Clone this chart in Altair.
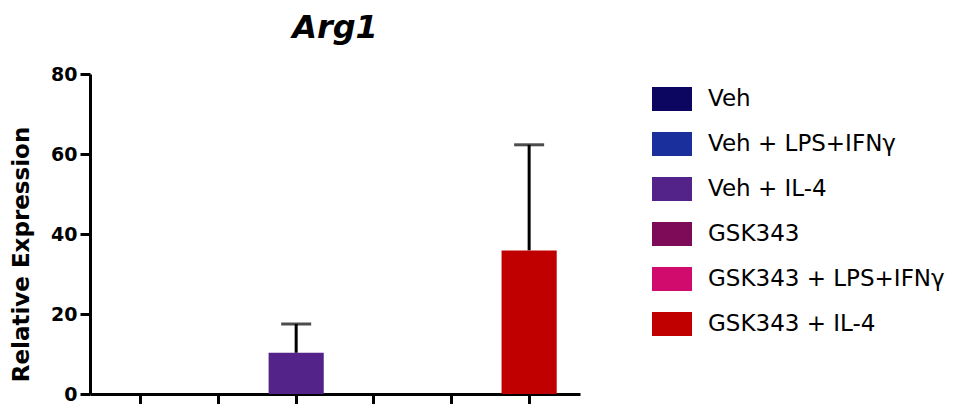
import altair as alt
import pandas as pd

groups = ["Veh", "Veh + LPS+IFNγ", "Veh + IL-4", "GSK343", "GSK343 + LPS+IFNγ", "GSK343 + IL-4"]
means = [0.0, 0.0, 10.3, 0.0, 0.0, 35.9]
errors = [0.0, 0.0, 7.2, 0.0, 0.0, 26.4]
colors = ["#0d0661", "#1b2f9c", "#53238a", "#7e0b57", "#d10b6d", "#c00000"]

df = pd.DataFrame({"group": groups, "mean": means, "err": errors})
df["upper"] = df["mean"] + df["err"]

FONT = "DejaVu Sans"

x = alt.X("group:N", sort=groups, title=None,
          scale=alt.Scale(paddingInner=0.29, paddingOuter=0.3),
          axis=alt.Axis(labels=False, ticks=True, tickSize=10, tickWidth=3,
                        tickColor="black", domainColor="black", domainWidth=3))

bars = alt.Chart(df).mark_bar().encode(
    x=x,
    y=alt.Y("mean:Q", title="Relative Expression",
            scale=alt.Scale(domain=[0, 80]),
            axis=alt.Axis(values=[0, 20, 40, 60, 80], tickSize=10, tickWidth=3,
                          tickColor="black", domainColor="black", domainWidth=3,
                          labelFont=FONT, labelFontSize=19, labelFontWeight="bold",
                          labelColor="black", labelPadding=3,
                          titleFont=FONT, titleFontSize=23, titleFontWeight="bold",
                          titleColor="black", titlePadding=17, titleY=180,
                          grid=False)),
    color=alt.Color("group:N", sort=groups,
                    scale=alt.Scale(domain=groups, range=colors),
                    legend=alt.Legend(title=None, orient="none", legendX=562, legendY=5,
                                      symbolType="M-1,-0.6H1V0.6H-1Z", symbolSize=1600,
                                      symbolStrokeWidth=0, symbolOpacity=1,
                                      labelFont=FONT, labelFontSize=23, labelColor="black",
                                      labelLimit=400,
                                      labelOffset=16, rowPadding=13)),
)

err_df = alt.Chart(df).transform_filter("datum.err > 0")

rule = err_df.mark_rule(color="black", strokeWidth=3).encode(
    x=alt.X("group:N", sort=groups),
    y="mean:Q",
    y2="upper:Q",
)

cap = err_df.mark_tick(color="black", thickness=3, size=30).encode(
    x=alt.X("group:N", sort=groups),
    y="upper:Q",
)

chart = alt.layer(rule, bars, cap).properties(
    width=490, height=320,
    title=alt.Title("Arg1", font=FONT, fontSize=32, fontWeight="bold", fontStyle="italic",
                    color="black", anchor="middle", offset=20),
    autosize=alt.AutoSizeParams(type="none"),
    padding={"left": 82, "top": 66, "right": 379, "bottom": 10},
).configure_view(stroke=None)

chart.save("out.html", embed_options={"renderer": "svg", "actions": False})
